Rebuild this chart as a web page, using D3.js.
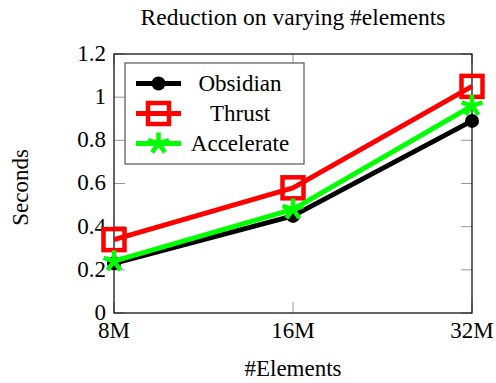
<!DOCTYPE html>
<html>
<head>
<meta charset="utf-8">
<script src="https://cdn.jsdelivr.net/npm/d3@7"></script>
<style>
  body { margin: 0; background: #fff; }
  text { font-family: "Liberation Serif", "Times New Roman", serif; fill: #000; }
</style>
</head>
<body>
<svg id="chart" width="496" height="383"></svg>
<script>
let sizes = ["8M", "16M", "32M"];
let obsidian = [0.23, 0.45, 0.89];
let thrust = [0.34, 0.58, 1.05];
let accelerate = [0.24, 0.48, 0.96];
let yTicks = [0, 0.2, 0.4, 0.6, 0.8, 1, 1.2];
let seriesNames = ["Obsidian", "Thrust", "Accelerate"];
let seriesColors = ["#000000", "#ff0000", "#00ff00"];
let seriesMarks = ["circle", "square", "star"];

let svg = d3.select('#chart');
let pad = {t: 54, r: 24, b: 70, l: 114};
let chartWidth = 496 - pad.l - pad.r;
let chartHeight = 383 - pad.t - pad.b;
let fontSize = "23px";

let x = d3.scalePoint().domain(sizes).range([0, chartWidth]);
let y = d3.scaleLinear().domain([0, 1.2]).range([chartHeight, 0]);

let g = svg.append("g").attr("transform", "translate(" + pad.l + "," + pad.t + ")");

// title + axis labels
svg.append("text")
    .attr("x", pad.l + chartWidth / 2).attr("y", 25)
    .attr("text-anchor", "middle").attr("font-size", "23.5px")
    .text("Reduction on varying #elements");
svg.append("text")
    .attr("x", pad.l + chartWidth / 2).attr("y", 376)
    .attr("text-anchor", "middle").attr("font-size", fontSize)
    .text("#Elements");
svg.append("text")
    .attr("transform", "translate(28," + (pad.t + chartHeight / 2 + 4) + ") rotate(-90)")
    .attr("text-anchor", "middle").attr("font-size", fontSize)
    .text("Seconds");

// inward ticks on all four sides (pgfplots style)
let tickLen = 11;
let tickColor = "#999";
yTicks.forEach(function(t) {
    g.append("line").attr("x1", 0).attr("x2", tickLen).attr("y1", y(t)).attr("y2", y(t))
        .attr("stroke", tickColor);
    g.append("line").attr("x1", chartWidth - tickLen).attr("x2", chartWidth).attr("y1", y(t)).attr("y2", y(t))
        .attr("stroke", tickColor);
    g.append("text")
        .attr("x", -8).attr("y", y(t)).attr("dy", "0.3em")
        .attr("text-anchor", "end").attr("font-size", fontSize)
        .text(d3.format("~g")(t));
});
sizes.forEach(function(s) {
    g.append("line").attr("x1", x(s)).attr("x2", x(s)).attr("y1", chartHeight - tickLen).attr("y2", chartHeight)
        .attr("stroke", tickColor);
    g.append("line").attr("x1", x(s)).attr("x2", x(s)).attr("y1", 0).attr("y2", tickLen)
        .attr("stroke", tickColor);
    g.append("text")
        .attr("x", x(s)).attr("y", chartHeight + 25)
        .attr("text-anchor", "middle").attr("font-size", fontSize)
        .text(s);
});

g.append("rect")
    .attr("width", chartWidth).attr("height", chartHeight)
    .attr("fill", "none").attr("stroke", "#000").attr("stroke-width", 1.2);

let starPath = function(r) {
    let p = "";
    for (let i = 0; i < 5; i++) {
        let a = -Math.PI / 2 + i * 2 * Math.PI / 5;
        p += "M0,0L" + (r * Math.cos(a)).toFixed(2) + "," + (r * Math.sin(a)).toFixed(2);
    }
    return p;
};

function drawMark(sel, kind, color) {
    if (kind == "circle") {
        sel.append("circle").attr("r", 7).attr("fill", color);
    } else if (kind == "square") {
        sel.append("rect").attr("x", -10.5).attr("y", -10.5).attr("width", 21).attr("height", 21)
            .attr("fill", "none").attr("stroke", color).attr("stroke-width", 4.5);
    } else {
        sel.append("path").attr("d", starPath(11)).attr("fill", "none")
            .attr("stroke", color).attr("stroke-width", 4.5);
    }
}

let line = d3.line().x((d, i) => x(sizes[i])).y(d => y(d));
let allSeries = [obsidian, thrust, accelerate];

allSeries.forEach(function(vals, k) {
    g.append("path").datum(vals)
        .attr("d", line)
        .attr("fill", "none")
        .attr("stroke", seriesColors[k])
        .attr("stroke-width", 5)
        .attr("stroke-linejoin", "round");
    vals.forEach(function(v, i) {
        let m = g.append("g").attr("transform", "translate(" + x(sizes[i]) + "," + y(v) + ")");
        drawMark(m, seriesMarks[k], seriesColors[k]);
    });
});

// legend
let legend = g.append("g").attr("transform", "translate(11,9)");
legend.append("rect")
    .attr("width", 179).attr("height", 101)
    .attr("fill", "#fff").attr("stroke", "#555").attr("stroke-width", 1.2);
seriesNames.forEach(function(name, k) {
    let row = legend.append("g").attr("transform", "translate(0," + (20.5 + k * 30) + ")");
    row.append("line").attr("x1", 11).attr("x2", 56).attr("y1", 0).attr("y2", 0)
        .attr("stroke", seriesColors[k]).attr("stroke-width", 5);
    let m = row.append("g").attr("transform", "translate(33.5,0)");
    drawMark(m, seriesMarks[k], seriesColors[k]);
    row.append("text")
        .attr("x", 115).attr("y", 0).attr("dy", "0.33em")
        .attr("text-anchor", "middle").attr("font-size", fontSize)
        .text(name);
});
</script>
</body>
</html>
